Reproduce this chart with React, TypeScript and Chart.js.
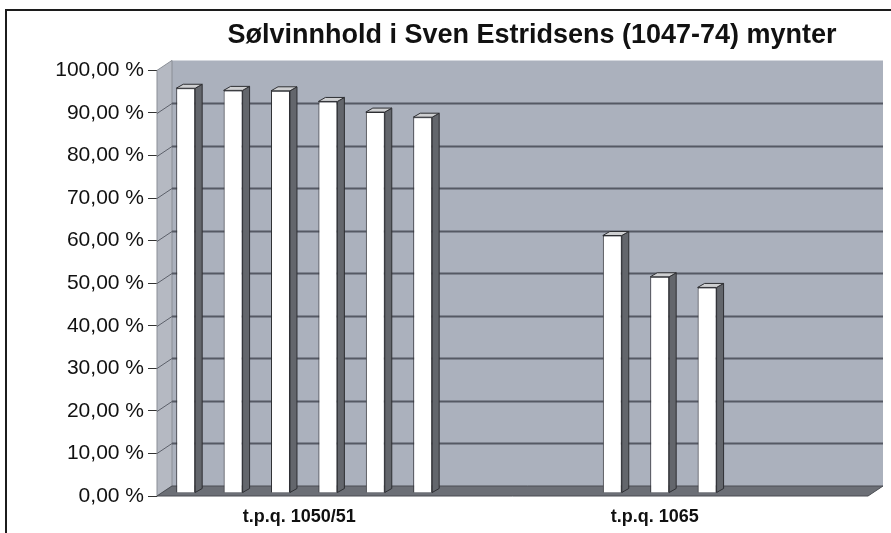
import React, { useEffect, useRef } from 'react';
import { Chart, registerables } from 'chart.js';

Chart.register(...registerables);

const titleText = 'Sølvinnhold i Sven Estridsens (1047-74) mynter';
const categories = ['t.p.q. 1050/51', 't.p.q. 1065'];
const group1050Values = [95.1, 94.6, 94.5, 92.0, 89.5, 88.3];
const group1065Values = [60.5, 50.8, 48.3];
const yTickValues = [0, 10, 20, 30, 40, 50, 60, 70, 80, 90, 100];
const yTickLabels = [
  '0,00 %', '10,00 %', '20,00 %', '30,00 %', '40,00 %', '50,00 %',
  '60,00 %', '70,00 %', '80,00 %', '90,00 %', '100,00 %',
];

// Each group occupies consecutive slots, followed by empty slots.
const GAP_SLOTS = 3;
const groups = [group1050Values, group1065Values];
const barPoints: { x: number; y: number }[] = [];
const groupCenters: number[] = [];
let slotCount = 0;
groups.forEach((g) => {
  const start = slotCount;
  g.forEach((v, i) => barPoints.push({ x: start + i, y: v }));
  groupCenters.push(start + (g.length - 1) / 2);
  slotCount = start + g.length + GAP_SLOTS;
});

const FONT = "'Liberation Sans', Arial, Helvetica, sans-serif";
const WALL_DX = 15;
const WALL_DY = -10;
const BAR_SHIFT_X = 5;
const BAR_SHIFT_Y = -3;
const BAR_DX = 7;
const BAR_DY = -4;
const TITLE_CX = 532;

function poly(ctx: CanvasRenderingContext2D, pts: number[][], fill: string, stroke?: string, lw = 1) {
  ctx.beginPath();
  ctx.moveTo(pts[0][0], pts[0][1]);
  for (let i = 1; i < pts.length; i++) ctx.lineTo(pts[i][0], pts[i][1]);
  ctx.closePath();
  ctx.fillStyle = fill;
  ctx.fill();
  if (stroke) {
    ctx.strokeStyle = stroke;
    ctx.lineWidth = lw;
    ctx.stroke();
  }
}

const threeD = {
  id: 'threeD',
  afterLayout(chart: any) {
    const tb = chart.titleBlock;
    if (tb) {
      const w = tb.right - tb.left;
      tb.left = TITLE_CX - w / 2;
      tb.right = TITLE_CX + w / 2;
    }
  },
  beforeDraw(chart: any) {
    const ctx = chart.ctx as CanvasRenderingContext2D;
    ctx.save();
    ctx.fillStyle = '#ffffff';
    ctx.fillRect(0, 0, chart.width, chart.height);
    ctx.strokeStyle = '#1c1c1c';
    ctx.lineWidth = 2;
    ctx.strokeRect(6, 10, chart.width + 20, chart.height + 20);
    ctx.restore();
  },
  beforeDatasetsDraw(chart: any) {
    const ctx = chart.ctx as CanvasRenderingContext2D;
    const { left, right, top, bottom } = chart.chartArea;
    const dx = WALL_DX, dy = WALL_DY;
    ctx.save();
    // back wall
    poly(ctx, [[left + dx, top + dy], [right + dx, top + dy], [right + dx, bottom + dy], [left + dx, bottom + dy]], '#abb1bd');
    // left wall
    poly(ctx, [[left, top], [left + dx, top + dy], [left + dx, bottom + dy], [left, bottom]], '#b5b9c2', '#8a8e96', 1);
    // gridlines
    const ys = chart.scales.y;
    ys.ticks.forEach((t: any) => {
      if (t.value <= 0 || t.value >= 100) return;
      const y = Math.round(ys.getPixelForValue(t.value)) + 0.5;
      ctx.beginPath();
      ctx.moveTo(left, y);
      ctx.lineTo(left + dx, y + dy);
      ctx.strokeStyle = '#5d616b';
      ctx.lineWidth = 1;
      ctx.stroke();
      ctx.beginPath();
      ctx.moveTo(left + dx, y + dy);
      ctx.lineTo(right + dx, y + dy);
      ctx.strokeStyle = '#555964';
      ctx.lineWidth = 2;
      ctx.stroke();
    });
    // floor
    poly(ctx, [[left, bottom], [left + dx, bottom + dy], [right + dx, bottom + dy], [right, bottom]], '#6c6f76', '#4a4d53', 1);
    ctx.restore();
    ctx.save();
    ctx.translate(BAR_SHIFT_X, BAR_SHIFT_Y);
  },
  afterDatasetsDraw(chart: any) {
    const ctx = chart.ctx as CanvasRenderingContext2D;
    const meta = chart.getDatasetMeta(0);
    meta.data.forEach((bar: any) => {
      const { x, y, base, width } = bar.getProps(['x', 'y', 'base', 'width'], true);
      if (!isFinite(y) || !isFinite(x)) return;
      const l = x - width / 2;
      const r = x + width / 2;
      poly(ctx, [[r, y], [r + BAR_DX, y + BAR_DY], [r + BAR_DX, base + BAR_DY], [r, base]], '#63666c', '#2e2f33', 1);
      poly(ctx, [[l, y], [l + BAR_DX, y + BAR_DY], [r + BAR_DX, y + BAR_DY], [r, y]], '#cfd0d2', '#2e2f33', 1);
    });
    ctx.restore();
  },
};

export default function App() {
  const ref = useRef<HTMLCanvasElement | null>(null);
  useEffect(() => {
    document.body.style.margin = '0';
    const canvas = ref.current;
    if (!canvas) return;
    const chart = new Chart(canvas, {
      type: 'bar',
      data: {
        datasets: [
          {
            data: barPoints as any,
            backgroundColor: '#ffffff',
            borderColor: '#2e2f33',
            borderWidth: 1,
            barPercentage: 0.4,
            categoryPercentage: 1,
            clip: false as any,
          },
        ],
      },
      options: {
        animation: false,
        responsive: false,
        devicePixelRatio: 1,
        layout: { padding: { left: 0, right: 23, top: 0, bottom: 0 } },
        plugins: {
          legend: { display: false },
          tooltip: { enabled: false },
          title: {
            display: true,
            text: titleText,
            color: '#111111',
            font: { family: FONT, size: 27, weight: 'bold' },
            padding: { top: 19, bottom: 19 },
          },
        },
        scales: {
          x: {
            type: 'linear',
            position: 'bottom',
            offset: false,
            min: -0.5,
            max: slotCount - 0.5,
            grid: { display: false, drawTicks: false },
            border: { display: false },
            afterBuildTicks: (s: any) => {
              s.ticks = groupCenters.map((v) => ({ value: v }));
            },
            afterFit: (s: any) => {
              s.height = 37;
            },
            ticks: {
              autoSkip: false,
              maxRotation: 0,
              padding: 10,
              color: '#111111',
              font: { family: FONT, size: 18, weight: 'bold' },
              callback: (_v: any, i: number) => categories[i],
            },
          },
          y: {
            type: 'linear',
            min: 0,
            max: 100,
            afterBuildTicks: (s: any) => {
              s.ticks = yTickValues.map((v) => ({ value: v }));
            },
            afterFit: (s: any) => {
              s.width = 157;
            },
            grid: {
              drawOnChartArea: false,
              drawTicks: true,
              tickLength: 9,
              color: '#333333',
            },
            border: { display: false },
            ticks: {
              padding: 4,
              color: '#111111',
              font: { family: FONT, size: 21 },
              callback: (_v: any, i: number) => yTickLabels[i],
            },
          },
        },
      },
      plugins: [threeD],
    });
    return () => chart.destroy();
  }, []);
  return (
    <div style={{ width: 891, height: 533 }}>
      <canvas ref={ref} width={891} height={533} style={{ display: 'block' }} />
    </div>
  );
}
